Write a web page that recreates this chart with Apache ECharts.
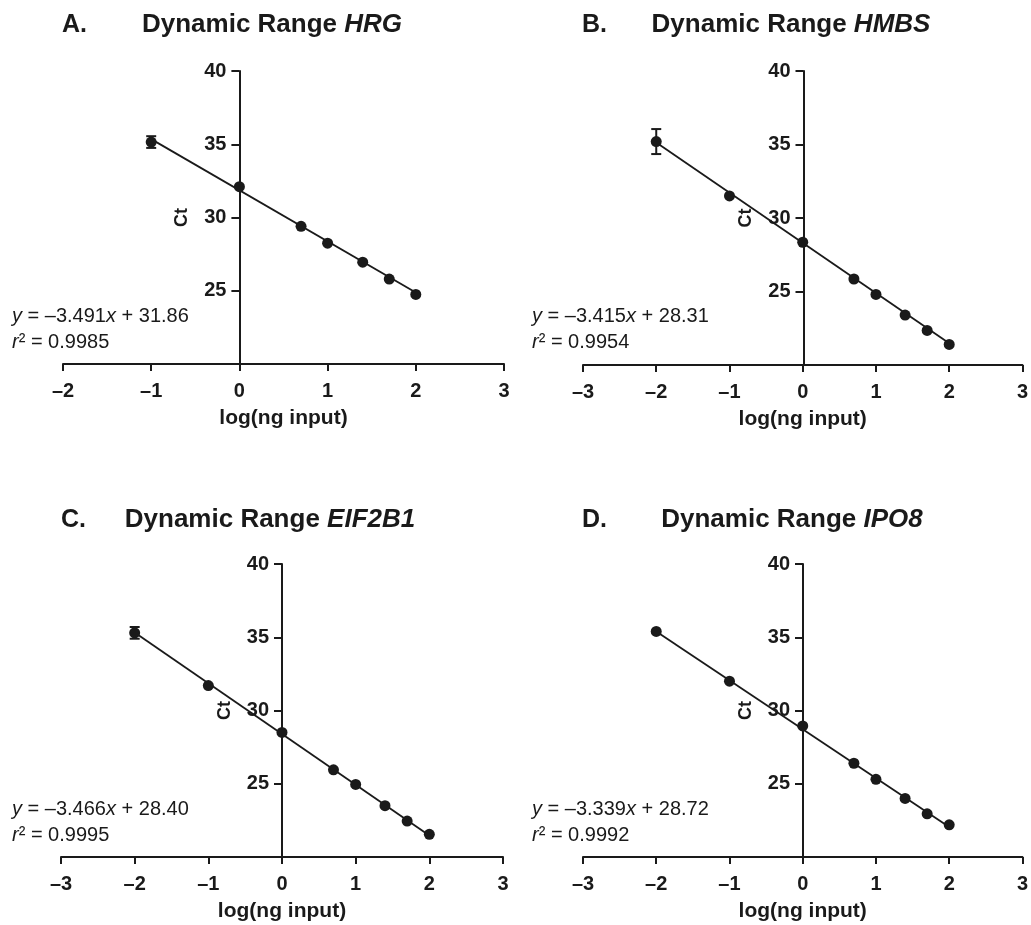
<!DOCTYPE html>
<html>
<head>
<meta charset="utf-8">
<script src="https://cdn.jsdelivr.net/npm/echarts@6/dist/echarts.min.js"></script>
<style>
html,body{margin:0;padding:0;background:#fff;}
#c{width:1031px;height:925px;}
</style>
</head>
<body>
<div id="c"></div>
<script>
// ---- data ----
const panelLetters = ['A.', 'B.', 'C.', 'D.'];
const geneNames = ['HRG', 'HMBS', 'EIF2B1', 'IPO8'];
const xTicksMin = [-2, -3, -3, -3];
const xTicksMax = [3, 3, 3, 3];
const yTicks = [20, 25, 30, 35, 40];

const logInputA = [-1, 0, 0.699, 1, 1.398, 1.699, 2];
const ctA = [35.15, 32.1, 29.4, 28.25, 26.95, 25.8, 24.75];
const logInputB = [-2, -1, 0, 0.699, 1, 1.398, 1.699, 2];
const ctB = [35.2, 31.5, 28.35, 25.85, 24.8, 23.4, 22.35, 21.4];
const logInputC = [-2, -1, 0, 0.699, 1, 1.398, 1.699, 2];
const ctC = [35.3, 31.7, 28.5, 25.95, 24.95, 23.5, 22.45, 21.55];
const logInputD = [-2, -1, 0, 0.699, 1, 1.398, 1.699, 2];
const ctD = [35.4, 32.0, 28.95, 26.4, 25.3, 24.0, 22.95, 22.2];

// visible error bars: [logInput, Ct, sd]
const errA = [[-1, 35.15, 0.4]];
const errB = [[-2, 35.2, 0.85]];
const errC = [[-2, 35.3, 0.4]];
const errD = [];

const slopes = [-3.491, -3.415, -3.466, -3.339];
const intercepts = [31.86, 28.31, 28.40, 28.72];
const slopeText = ['3.491', '3.415', '3.466', '3.339'];
const interceptText = ['31.86', '28.31', '28.40', '28.72'];
const r2Text = ['0.9985', '0.9954', '0.9995', '0.9992'];

// ---- layout ----
const FONT = '"Liberation Sans", Arial, Helvetica, sans-serif';
const INK = '#1a1a1a';
const W = 1031;
const grids = [
  {left: 63, right: 527, top: 71, bottom: 561},
  {left: 583, right: 7, top: 71, bottom: 560},
  {left: 61, right: 528, top: 564, bottom: 68},
  {left: 583, right: 8, top: 564, bottom: 68}
];
const titleCenterX = [272, 791, 270, 792];
const letterX = [62, 582, 61, 582];
const titleY = [25, 25, 520, 520];
const eqX = [12, 532, 12, 532];
const eqY = [316, 316, 809, 809];

const xs = [logInputA, logInputB, logInputC, logInputD];
const ys = [ctA, ctB, ctC, ctD];
const errs = [errA, errB, errC, errD];

// y axis sits at x = 0: shift it right from the grid's left edge
const yOffsets = grids.map((g, i) => {
  const w = W - g.left - g.right;
  return -w * (0 - xTicksMin[i]) / (xTicksMax[i] - xTicksMin[i]);
});

const option = {
  animation: false,
  backgroundColor: '#fff',
  grid: grids.map(g => Object.assign({containLabel: false}, g)),
  xAxis: grids.map((g, i) => ({
    type: 'value', gridIndex: i, min: xTicksMin[i], max: xTicksMax[i], interval: 1,
    axisLine: {onZero: false, lineStyle: {color: INK, width: 2}},
    axisTick: {length: 7, lineStyle: {color: INK, width: 2}},
    axisLabel: {margin: 17, fontSize: 20, fontWeight: 'bold', color: INK, fontFamily: FONT,
      formatter: v => v < 0 ? '\u2013' + Math.abs(v) : String(v)},
    splitLine: {show: false},
    name: 'log(ng input)', nameLocation: 'middle', nameGap: 44,
    nameTextStyle: {fontSize: 21, fontWeight: 'bold', color: INK, fontFamily: FONT}
  })),
  yAxis: grids.map((g, i) => ({
    type: 'value', gridIndex: i, min: yTicks[0], max: yTicks[yTicks.length - 1], interval: 5,
    position: 'left', offset: yOffsets[i],
    axisLine: {onZero: false, lineStyle: {color: INK, width: 2}},
    axisTick: {length: 8, lineStyle: {color: INK, width: 2}},
    axisLabel: {margin: 13, fontSize: 20, fontWeight: 'bold', color: INK, fontFamily: FONT, showMinLabel: false},
    splitLine: {show: false},
    name: 'Ct', nameLocation: 'middle', nameGap: 48, nameRotate: 90,
    nameTextStyle: {fontSize: 18, fontWeight: 'bold', color: INK, fontFamily: FONT}
  })),
  series: [],
  graphic: []
};

xs.forEach((xv, i) => {
  const x0 = Math.min(...xv), x1 = Math.max(...xv);
  option.series.push({
    type: 'line', xAxisIndex: i, yAxisIndex: i, showSymbol: false, silent: true,
    data: [[x0, slopes[i] * x0 + intercepts[i]], [x1, slopes[i] * x1 + intercepts[i]]],
    lineStyle: {color: INK, width: 1.8, opacity: 1}, z: 2
  });
  option.series.push({
    type: 'custom', xAxisIndex: i, yAxisIndex: i, z: 3,
    data: errs[i].map(e => [e[0], e[1] - e[2], e[1] + e[2]]),
    renderItem: (params, api) => {
      const x = api.value(0);
      const lo = api.coord([x, api.value(1)]);
      const hi = api.coord([x, api.value(2)]);
      const w = 5;
      const st = {stroke: INK, lineWidth: 2};
      return {type: 'group', children: [
        {type: 'line', shape: {x1: lo[0], y1: lo[1], x2: hi[0], y2: hi[1]}, style: st},
        {type: 'line', shape: {x1: hi[0] - w, y1: hi[1], x2: hi[0] + w, y2: hi[1]}, style: st},
        {type: 'line', shape: {x1: lo[0] - w, y1: lo[1], x2: lo[0] + w, y2: lo[1]}, style: st}
      ]};
    }
  });
  option.series.push({
    type: 'scatter', xAxisIndex: i, yAxisIndex: i, symbol: 'circle', symbolSize: 11, z: 4,
    data: xv.map((x, k) => [x, ys[i][k]]),
    itemStyle: {color: INK, opacity: 1, borderWidth: 0}
  });

  option.graphic.push({
    type: 'text', x: letterX[i], y: titleY[i],
    style: {text: panelLetters[i], font: 'bold 25px ' + FONT, fill: INK, verticalAlign: 'middle', align: 'left'}
  });
  option.graphic.push({
    type: 'text', x: titleCenterX[i], y: titleY[i],
    style: {
      text: '{b|Dynamic Range }{bi|' + geneNames[i] + '}',
      align: 'center', verticalAlign: 'middle',
      rich: {
        b: {font: 'bold 26px ' + FONT, fill: INK},
        bi: {font: 'italic bold 26px ' + FONT, fill: INK}
      }
    }
  });
  option.graphic.push({
    type: 'text', x: eqX[i], y: eqY[i],
    style: {
      text: '{i|y}{n| = \u2013' + slopeText[i] + '}{i|x}{n| + ' + interceptText[i] + '}',
      align: 'left', verticalAlign: 'middle',
      rich: {
        n: {font: '20px ' + FONT, fill: INK},
        i: {font: 'italic 20px ' + FONT, fill: INK}
      }
    }
  });
  option.graphic.push({
    type: 'text', x: eqX[i], y: eqY[i] + 26,
    style: {
      text: '{i|r}{n|\u00b2 = ' + r2Text[i] + '}',
      align: 'left', verticalAlign: 'middle',
      rich: {
        n: {font: '20px ' + FONT, fill: INK},
        i: {font: 'italic 20px ' + FONT, fill: INK}
      }
    }
  });
});

const chart = echarts.init(document.getElementById('c'), null, {renderer: 'canvas'});
chart.setOption(option);
</script>
</body>
</html>
